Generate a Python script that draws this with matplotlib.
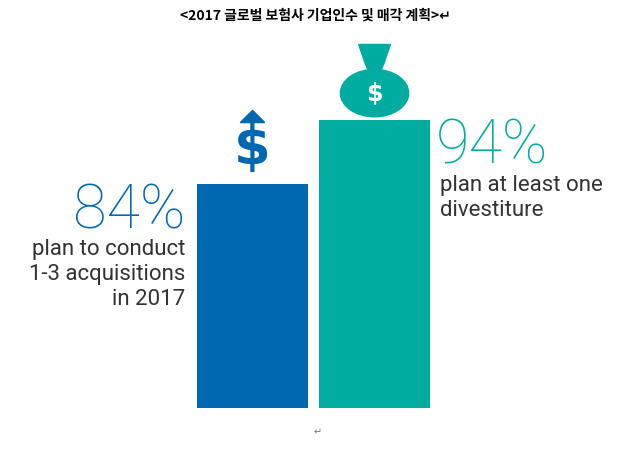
import matplotlib
matplotlib.use("Agg")
import matplotlib.pyplot as plt
from matplotlib.patches import Ellipse, Polygon

title = "<2017 글로벌 보험사 기업인수 및 매각 계획>"
categories = ["acquisitions", "divestiture"]
values = [84, 94]
labels = ["84%", "94%"]
captions = ["plan to conduct\n1-3 acquisitions\nin 2017", "plan at least one\ndivestiture"]
colors = ["#0067B1", "#00ACA0"]

fig = plt.figure(figsize=(6.30, 4.54), dpi=100)
fig.patch.set_facecolor("white")
ax = fig.add_axes([0, 1 - 408 / 454, 1, 408 / 454])
ax.set_xlim(-2.07, 3.094)
ax.set_ylim(49, 112.75)
ax.axis("off")
x = [0, 1]
ax.bar(x, values, width=0.91, color=colors)

fam = ["Roboto", "DejaVu Sans"]
ax.text(-0.55, values[0] + 0.3, labels[0], ha="right", va="top", fontsize=44,
        color=colors[0], family=fam, fontweight="light", fontstretch="condensed")
ax.text(-0.55, values[0] - 8.6, captions[0], ha="right", va="top", fontsize=16,
        color="#333333", family=fam, linespacing=1.25)
ax.text(1.5, values[1] + 0.4, labels[1], ha="left", va="top", fontsize=44,
        color=colors[1], family=fam, fontweight="light", fontstretch="condensed")
ax.text(1.54, values[1] - 8.6, captions[1], ha="left", va="top", fontsize=16,
        color="#333333", family=fam, linespacing=1.25)

# dollar with up-arrow above blue bar
ax.text(0, values[0] + 5.5, "$", ha="center", va="center", fontsize=38,
        fontweight="bold", color=colors[0], family=["DejaVu Sans"])
ax.add_patch(Polygon([[-0.1, values[0] + 9.6], [0, values[0] + 11.5], [0.1, values[0] + 9.6]],
                     closed=True, color=colors[0]))
# money bag above teal bar
ax.add_patch(Ellipse((1, values[1] + 4.2), 0.56, 7.4, color=colors[1]))
ax.add_patch(Polygon([[0.95, values[1] + 7.6], [1.05, values[1] + 7.6],
                      [1.08, values[1] + 9.0], [1.13, values[1] + 11.8],
                      [0.87, values[1] + 11.8], [0.92, values[1] + 9.0]],
                     closed=True, color=colors[1]))
ax.text(1, values[1] + 4.0, "$", ha="center", va="center", fontsize=17,
        fontweight="bold", color="white", family=["DejaVu Sans"])

fig.text(0.5, 1 - 16 / 454, title + "↵", ha="center", va="center", fontsize=10,
         fontweight="bold", family=["Noto Sans CJK KR", "DejaVu Sans"])
fig.text(318 / 630, 1 - 432 / 454, "↵", ha="center", va="center", fontsize=7,
         color="#777777", family=["DejaVu Sans"])
fig.savefig("out.png", dpi=100, facecolor="white")
